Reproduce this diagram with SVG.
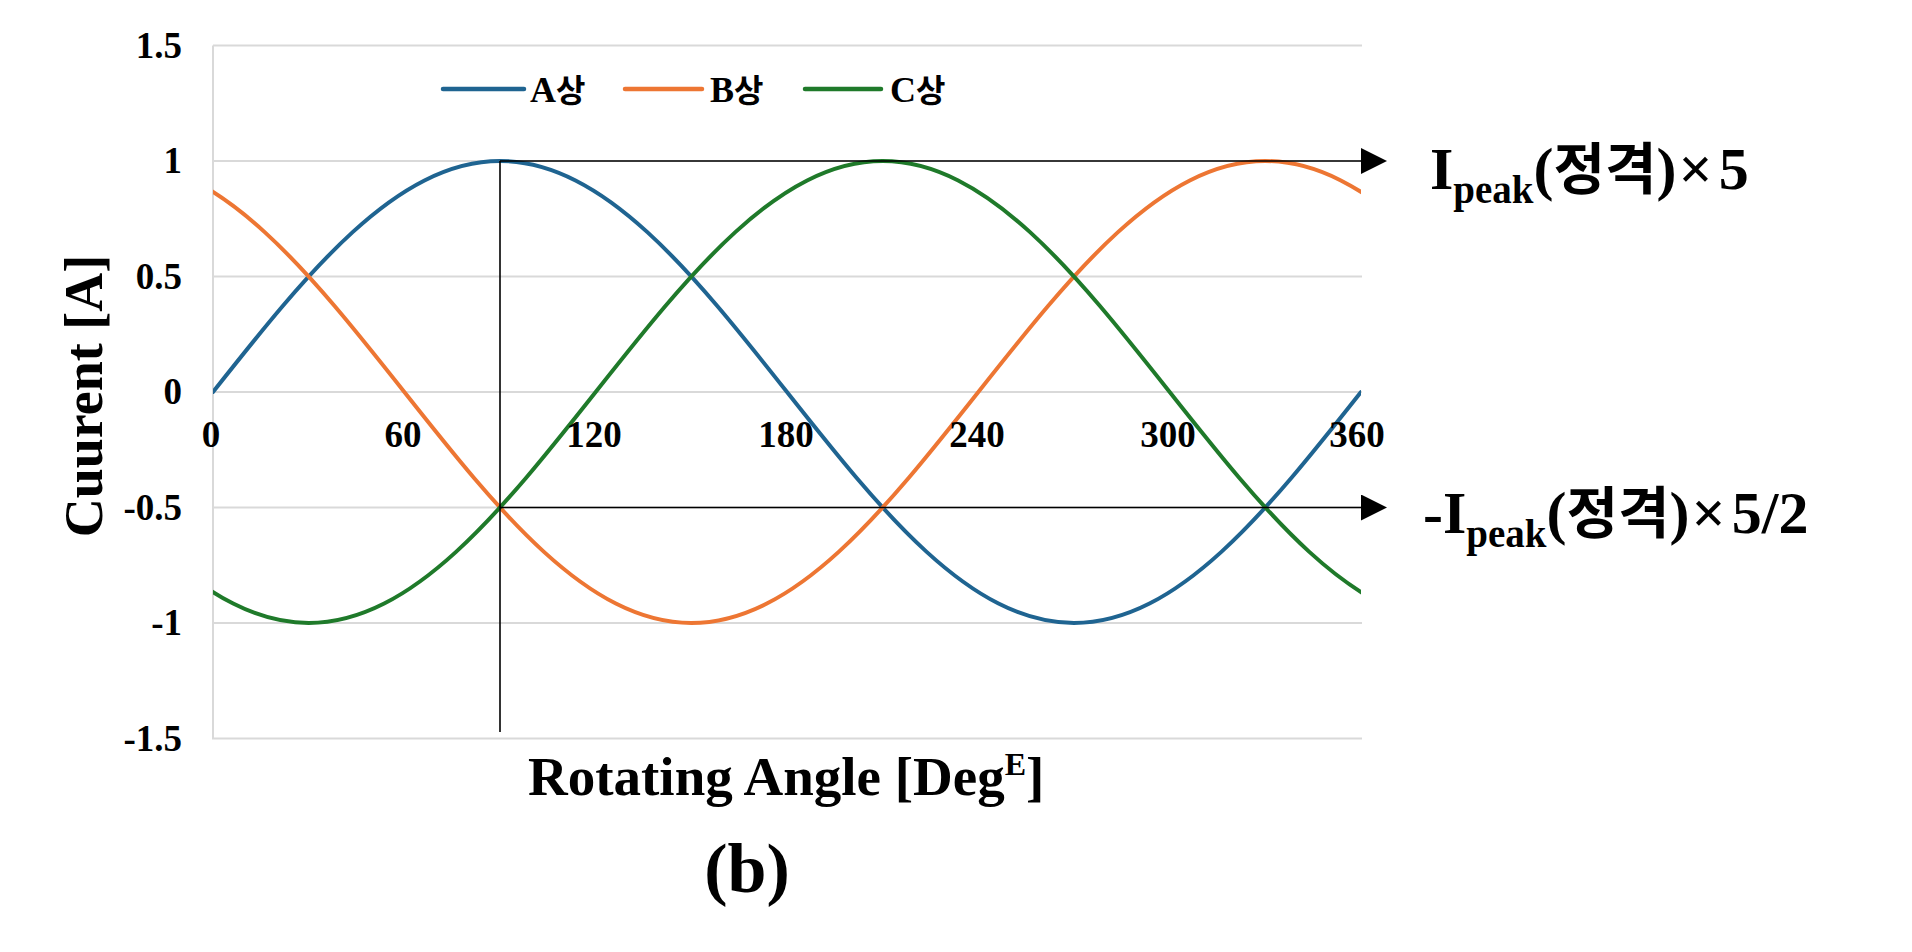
<svg xmlns="http://www.w3.org/2000/svg" width="1912" height="952" viewBox="0 0 1912 952">
<style>
text{font-family:"Liberation Serif","Noto Sans CJK KR",serif;font-weight:bold;fill:#000}
.grid{stroke:#d9d9d9;stroke-width:2;fill:none}
.tick{font-size:37px}
.ko{font-family:"Noto Sans CJK KR","Liberation Serif",sans-serif}
.curve{fill:none;stroke-width:4;stroke-linecap:round}
.ca{stroke:#1f6491}
.cb{stroke:#ed7633}
.cc{stroke:#1f7a2a}
.lead{stroke:#000;stroke-width:1.6;fill:none}
</style>
<defs>
<clipPath id="plot"><rect x="213" y="0" width="1148" height="952"/></clipPath>
<marker id="arr" markerWidth="26" markerHeight="26" refX="0" refY="13" orient="auto" markerUnits="userSpaceOnUse"><path d="M0,0 L26,13 L0,26 z" fill="#000"/></marker>
</defs>
<rect width="1912" height="952" fill="#fff"/>
<g id="gridlines">
<path class="grid" d="M213,45.5H1362M213,161H1362M213,276.5H1362M213,392H1362M213,507.5H1362M213,623H1362M213,738.5H1362M213,45.5V739.5"/>
</g>
<g id="y-axis-labels" class="tick" text-anchor="end">
<text x="182" y="57.5">1.5</text>
<text x="182" y="173">1</text>
<text x="182" y="288.5">0.5</text>
<text x="182" y="404">0</text>
<text x="182" y="519.5">-0.5</text>
<text x="182" y="635">-1</text>
<text x="182" y="750.5">-1.5</text>
</g>
<g id="y-axis-title">
<text transform="translate(102,396) rotate(-90)" text-anchor="middle" font-size="54">Cuurent [A]</text>
</g>
<g id="series" clip-path="url(#plot)">
<path id="phase-a" class="curve ca" d="M213,392 c93.6,-118.3 183.1,-231 287,-231 c103.9,0 193.4,112.7 287,231 c93.6,118.3 183.1,231 287,231 c103.9,0 193.4,-112.7 287,-231"/>
<path id="phase-b" class="curve cb" d="M117.33,161 c103.9,0 193.4,112.7 287,231 c93.6,118.3 183.1,231 287,231 c103.9,0 193.4,-112.7 287,-231 c93.6,-118.3 183.1,-231 287,-231 c103.9,0 193.4,112.7 287,231"/>
<path id="phase-c" class="curve cc" d="M21.67,392 c93.6,118.3 183.1,231 287,231 c103.9,0 193.4,-112.7 287,-231 c93.6,-118.3 183.1,-231 287,-231 c103.9,0 193.4,112.7 287,231 c93.6,118.3 183.1,231 287,231"/>
</g>
<g id="x-axis-labels" class="tick" text-anchor="middle">
<text x="211" y="447">0</text>
<text x="403" y="447">60</text>
<text x="594" y="447">120</text>
<text x="786" y="447">180</text>
<text x="977" y="447">240</text>
<text x="1168" y="447">300</text>
<text x="1357" y="447">360</text>
</g>
<g id="legend">
<line x1="443" y1="89" x2="524" y2="89" class="ca" stroke-width="4.5" stroke-linecap="round"/>
<text x="530" y="102" font-size="36">A<tspan class="ko" font-size="32">상</tspan></text>
<line x1="625" y1="89" x2="702" y2="89" class="cb" stroke-width="4.5" stroke-linecap="round"/>
<text x="710" y="102" font-size="36">B<tspan class="ko" font-size="32">상</tspan></text>
<line x1="805" y1="89" x2="881" y2="89" class="cc" stroke-width="4.5" stroke-linecap="round"/>
<text x="890" y="102" font-size="36">C<tspan class="ko" font-size="32">상</tspan></text>
</g>
<g id="connectors">
<path class="lead" d="M500,161V732"/>
<path class="lead" d="M500,161H1361" marker-end="url(#arr)"/>
<path class="lead" d="M500,507.5H1361" marker-end="url(#arr)"/>
</g>
<g id="label-peak">
<text x="1430" y="189" font-size="60">I<tspan font-size="39" dy="14">peak</tspan><tspan dy="-14">(</tspan><tspan class="ko" font-size="56">정격</tspan>)<tspan dx="2">×</tspan><tspan dx="6">5</tspan></text>
</g>
<g id="label-half">
<text x="1423" y="533" font-size="60">-I<tspan font-size="39" dy="14">peak</tspan><tspan dy="-14">(</tspan><tspan class="ko" font-size="56">정격</tspan>)<tspan dx="2">×</tspan><tspan dx="6">5/2</tspan></text>
</g>
<g id="x-axis-title">
<text x="528" y="795" font-size="55">Rotating Angle [Deg<tspan font-size="32" dy="-20">E</tspan><tspan dy="20">]</tspan></text>
</g>
<g id="caption">
<text x="747" y="892" font-size="70" text-anchor="middle">(b)</text>
</g>
</svg>
